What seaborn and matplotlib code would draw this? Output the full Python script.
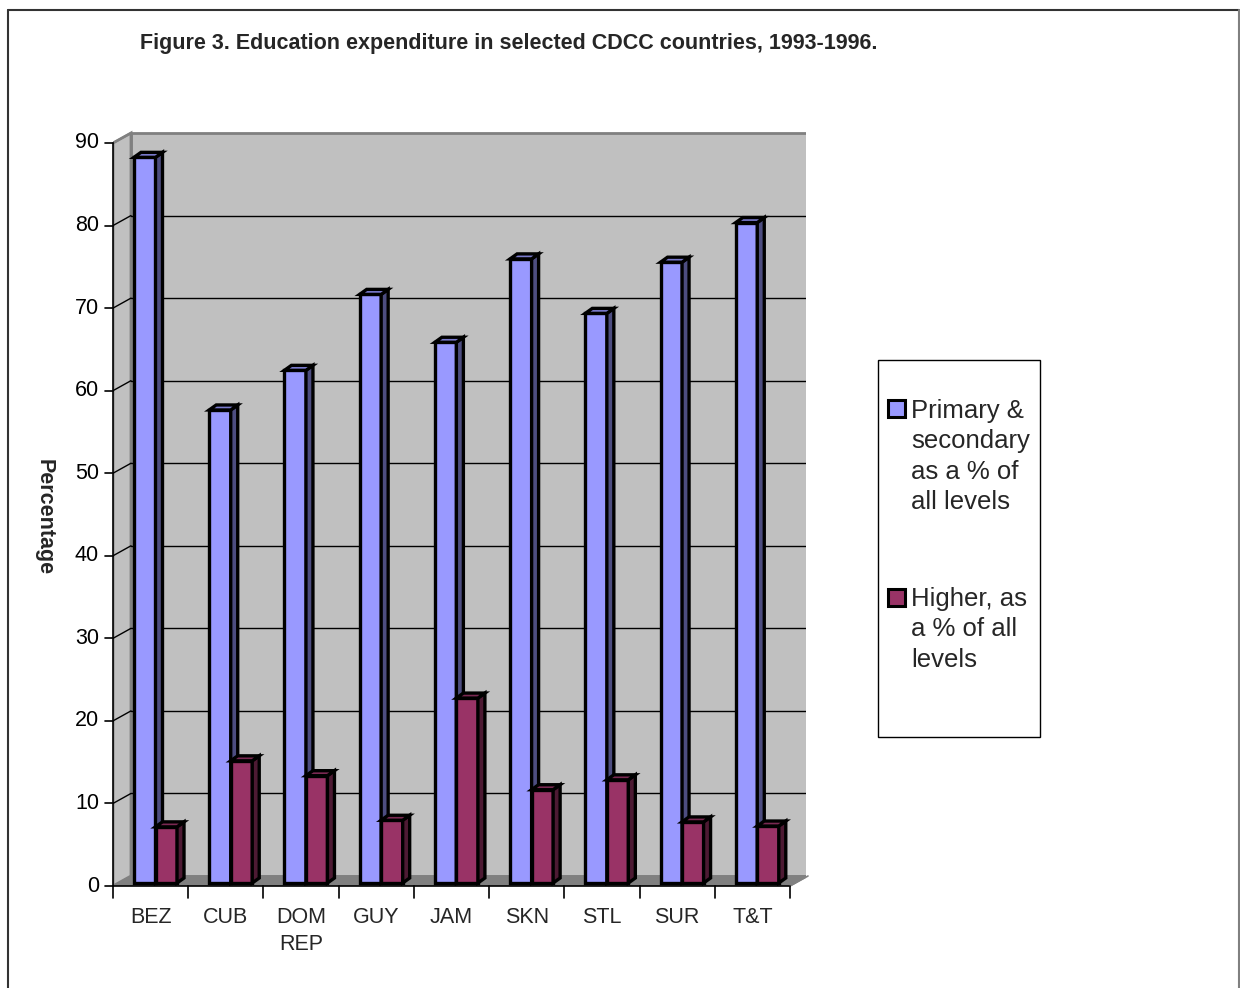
import matplotlib
matplotlib.use("Agg")
import matplotlib.pyplot as plt
import seaborn as sns
import pandas as pd
from matplotlib.patches import Polygon, Rectangle

countries = ["BEZ", "CUB", "DOM\nREP", "GUY", "JAM", "SKN", "STL", "SUR", "T&T"]
primary_secondary = [87.9, 57.3, 62.1, 71.3, 65.5, 75.6, 69.0, 75.2, 80.0]
higher = [6.8, 14.8, 13.0, 7.6, 22.4, 11.3, 12.5, 7.4, 6.9]
series_names = ["Primary &\nsecondary\nas a % of\nall levels", "Higher, as\na % of all\nlevels"]
front_colors = ["#9999FF", "#993366"]
side_colors = ["#4D4D80", "#4D1A33"]
top_colors = ["#7A7ACC", "#7A2952"]

df = pd.DataFrame({
    "country": countries * 2,
    "value": primary_secondary + higher,
    "series": [series_names[0]] * len(countries) + [series_names[1]] * len(countries),
})

sns.set_theme(style="white")
plt.rcParams["font.family"] = ["Liberation Sans", "DejaVu Sans"]

W, H = 1240, 988
fig = plt.figure(figsize=(W / 100, H / 100), dpi=100)

# pixel geometry of the front plane
x_left, x_front_right, x_back_right = 113, 790, 806
y_zero, y_ninety, y_top = 886, 143, 130
px_per_cat = (x_front_right - x_left) / 9
px_per_unit = (y_zero - y_ninety) / 90
xmax = -0.5 + (x_back_right - x_left) / px_per_cat
ymax = (y_zero - y_top) / px_per_unit

ax = fig.add_axes([x_left / W, (H - y_zero) / H, (x_back_right - x_left) / W, (y_zero - y_top) / H])

dx = 18 / px_per_cat
dy = 10 / px_per_unit

# walls and floor
wall_c = "#C0C0C0"
ax.add_patch(Polygon([(-0.5 + dx, dy), (8.5 + dx, dy), (8.5 + dx, 90 + dy), (-0.5 + dx, 90 + dy)],
                     closed=True, facecolor=wall_c, edgecolor="#808080", lw=2, zorder=0))
ax.add_patch(Polygon([(-0.5, 0), (-0.5 + dx, dy), (-0.5 + dx, 90 + dy), (-0.5, 90)],
                     closed=True, facecolor=wall_c, edgecolor="#808080", lw=2, zorder=0))
ax.add_patch(Polygon([(-0.5, 0), (8.5, 0), (8.5 + dx, dy), (-0.5 + dx, dy)],
                     closed=True, facecolor="#808080", edgecolor="#808080", lw=1, zorder=0.5))
for yv in range(10, 90, 10):
    ax.plot([-0.5 + dx, 8.5 + dx], [yv + dy, yv + dy], color="black", lw=1, zorder=0.6)
    ax.plot([-0.5, -0.5 + dx], [yv, yv + dy], color="black", lw=1, zorder=0.6)
ax.plot([-0.5, -0.5 + dx], [90, 90 + dy], color="#808080", lw=1.5, zorder=0.6)

# bars (front faces via seaborn)
sns.barplot(data=df, x="country", y="value", hue="series", order=countries,
            hue_order=series_names, palette=front_colors, width=0.572,
            edgecolor="black", linewidth=2.4, saturation=1, ax=ax, legend=False, zorder=2)
ax.set_xlim(-0.5, xmax)
ax.set_ylim(0, ymax)
ax.set_axis_off()

shift_x = 0.065
by = 3 / px_per_unit
depth_x = 7 / px_per_cat
depth_y = 5 / px_per_unit
bars = [p for p in ax.patches if isinstance(p, Rectangle) and p.get_height() > 0 and p.get_width() < 1]
n = len(countries)
for i, p in enumerate(bars[: 2 * n]):
    s = i // n
    p.set_x(p.get_x() + shift_x)
    p.set_y(by)
    p.set_zorder(2 + s)
    x0, w, h = p.get_x(), p.get_width(), p.get_height()
    y0 = by
    side = [(x0 + w, y0), (x0 + w + depth_x, y0 + depth_y), (x0 + w + depth_x, y0 + h + depth_y), (x0 + w, y0 + h)]
    top = [(x0, y0 + h), (x0 + depth_x, y0 + h + depth_y), (x0 + w + depth_x, y0 + h + depth_y), (x0 + w, y0 + h)]
    ax.add_patch(Polygon(side, closed=True, facecolor=side_colors[s], edgecolor="black", lw=2.4, zorder=2 + s))
    ax.add_patch(Polygon(top, closed=True, facecolor=top_colors[s], edgecolor="black", lw=2.4, zorder=2 + s))

# axes lines, ticks, labels (drawn in data coords)
axis_c = "#808080"
ax.plot([-0.5, -0.5], [0, 90], color="black", lw=1.2, zorder=5, clip_on=False)
ax.plot([-0.5, 8.5], [0, 0], color="black", lw=1.2, zorder=5, clip_on=False)
ax.plot([8.5, 8.5 + dx], [0, dy], color=axis_c, lw=1.2, zorder=5, clip_on=False)
tick_dx = 8 / px_per_cat
for yv in range(0, 100, 10):
    ax.plot([-0.5 - tick_dx, -0.5], [yv, yv], color="black", lw=1.2, clip_on=False, zorder=5)
    ax.text(-0.5 - 14 / px_per_cat, yv, str(yv), ha="right", va="center", fontsize=15.5, color="black")
for k in range(0, 10):
    ax.plot([k - 0.5, k - 0.5], [0, -12 / px_per_unit], color="black", lw=1.2, clip_on=False, zorder=5)
for k, c in enumerate(countries):
    ax.text(k, -21 / px_per_unit, c, ha="center", va="top", fontsize=15.5, linespacing=1.38)

fig.text(44 / W, 1 - 517 / H, "Percentage", rotation=-90, ha="center", va="center",
         fontsize=15.5, fontweight="bold")
fig.text(140 / W, 1 - 43 / H, "Figure 3. Education expenditure in selected CDCC countries, 1993-1996.",
         ha="left", va="center", fontsize=15.5, fontweight="bold")

# legend (drawn as a framed box with swatches aligned to the first label line)
fig.add_artist(Rectangle((878 / W, 1 - 737 / H), (1040 - 878) / W, (737 - 360) / H,
                         transform=fig.transFigure, facecolor="white", edgecolor="black", lw=1.0))
legend_first_line_y = [409, 597]
for i, name in enumerate(series_names):
    yc = legend_first_line_y[i]
    fig.add_artist(Rectangle((888 / W, 1 - (yc + 8.5) / H), 17 / W, 17 / H, transform=fig.transFigure,
                             facecolor=front_colors[i], edgecolor="black", lw=2.2))
    fig.text(911 / W, 1 - (yc - 10) / H, name, ha="left", va="top", fontsize=18.5, linespacing=1.34)

# outer border
fig.add_artist(plt.Line2D([8 / W, 8 / W], [0, 1 - 10 / H], color="#333333", lw=1.5))
fig.add_artist(plt.Line2D([8 / W, 1239 / W], [1 - 10 / H, 1 - 10 / H], color="#333333", lw=1.5))
fig.add_artist(plt.Line2D([1239 / W, 1239 / W], [0, 1 - 10 / H], color="#808080", lw=1.5))

fig.savefig("out.png", dpi=100, facecolor="white")
